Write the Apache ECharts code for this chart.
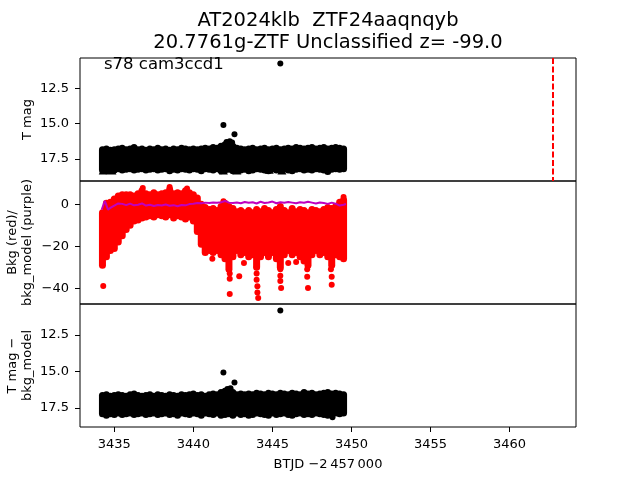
<!DOCTYPE html>
<html>
<head>
<meta charset="utf-8">
<script src="https://cdn.jsdelivr.net/npm/echarts@6/dist/echarts.min.js"></script>
<style>html,body{margin:0;padding:0;background:#fff}#c{width:640px;height:480px}</style>
</head>
<body>
<div id="c"></div>
<script>
// ---------- data ----------
const binTimes = [3434.25,3434.5,3434.75,3435,3435.25,3435.5,3435.75,3436,3436.25,3436.5,3436.75,3437,3437.25,3437.5,3437.75,3438,3438.25,3438.5,3438.75,3439,3439.25,3439.5,3439.75,3440,3440.25,3440.5,3440.75,3441,3441.25,3441.5,3441.75,3442,3442.25,3442.5,3442.75,3443,3443.25,3443.5,3443.75,3444,3444.25,3444.5,3444.75,3445,3445.25,3445.5,3445.75,3446,3446.25,3446.5,3446.75,3447,3447.25,3447.5,3447.75,3448,3448.25,3448.5,3448.75,3449,3449.25,3449.5];

// T mag: brightest / faintest point of the dense cloud in each time bin
const magTop = [16.85,16.8,16.9,16.85,16.8,16.75,16.85,16.8,16.7,16.85,16.8,16.9,16.8,16.85,16.75,16.85,16.8,16.9,16.8,16.85,16.75,16.8,16.85,16.8,16.85,16.8,16.75,16.8,16.7,16.75,16.6,16.5,16.45,16.6,16.75,16.8,16.85,16.8,16.75,16.85,16.8,16.75,16.85,16.8,16.75,16.85,16.8,16.75,16.8,16.7,16.75,16.8,16.75,16.7,16.8,16.75,16.7,16.8,16.75,16.7,16.75,16.8];
const magBottom = [18.3,18.35,18.25,18.3,18.2,18.3,18.25,18.2,18.3,18.25,18.2,18.3,18.25,18.2,18.3,18.25,18.2,18.35,18.25,18.3,18.2,18.25,18.3,18.2,18.25,18.35,18.2,18.25,18.3,18.2,18.35,18.3,18.25,18.35,18.2,18.3,18.25,18.35,18.3,18.2,18.25,18.3,18.35,18.2,18.3,18.25,18.2,18.3,18.35,18.25,18.2,18.3,18.25,18.3,18.2,18.25,18.3,18.4,18.25,18.2,18.25,18.2];
const limitTimes = [3434.3,3434.85,3441.9,3442.75,3444.8,3445.6];
const limitMags = [18.3,18.3,18.3,18.3,18.25,18.3];
const magOutTimes = [3445.5,3441.9,3442.6,3442.1,3442.3,3442.45];
const magOutVals = [10.73,15.1,15.76,16.3,16.25,16.35];

// Background flux (red) and background model (purple)
const bkgTop = [-4,0.5,1,2.5,4,4.5,4.5,4.5,4,5,6.5,5,4.5,5.5,4.5,5,5.5,7,5,5.5,5,6.5,5.5,4.5,3,0,-1.5,-2.5,-2,-3,-1,0.5,-1,-2,-3.5,-3,-4,-3,-4,-2.5,-3.5,-2,-3,-4,-2.5,-1,-3,-4,-2,-3.5,-2.5,-3,-4,-2.5,-3,-3.5,-2.5,-1.5,-2,-1,1,2];
const bkgBottom = [-29,-25,-22,-21,-18,-15,-12,-10,-8,-7.5,-6.5,-6,-5.5,-6,-5,-5.5,-6,-5,-6.5,-5.5,-6,-7,-6,-8,-13,-19,-23,-22,-23,-22,-24,-26,-31,-25,-22,-24,-23,-25,-24,-30,-25,-23,-25,-23,-26,-30,-24,-22,-24,-23,-25,-27,-29,-24,-22,-24,-23,-25,-29,-24,-25,-26];
const bkgOutTimes = [3434.3,3436.8,3438.5,3439.6,3441.2,3441.9,3442.3,3442.3,3442.3,3442.9,3443.2,3444.0,3444.0,3444.0,3444.05,3444.05,3444.1,3445.5,3445.5,3445.5,3445.55,3446.0,3446.5,3447.2,3447.2,3447.25,3448.7,3448.75,3448.75,3449.5];
const bkgOutVals = [-38.9,7.8,8.2,7.5,-26,1.4,-33,-35.5,-42.7,-34.3,-28,-30,-33,-36,-39,-42,-44.6,-31,-34,-36.5,-39.9,-28,-27.5,-31,-34.5,-39.9,-31,-34.5,-38.3,3.5];
const modelTimes = [3434.2,3434.4,3434.6,3434.8,3435,3435.25,3435.5,3435.75,3436,3436.25,3436.5,3436.75,3437,3437.25,3437.5,3437.75,3438,3438.25,3438.5,3438.75,3439,3439.25,3439.5,3439.75,3440,3440.25,3440.5,3440.75,3441,3441.25,3441.5,3441.75,3442,3442.25,3442.5,3442.75,3443,3443.25,3443.5,3443.75,3444,3444.25,3444.5,3444.75,3445,3445.25,3445.5,3445.75,3446,3446.25,3446.5,3446.75,3447,3447.25,3447.5,3447.75,3448,3448.25,3448.5,3448.75,3449,3449.25,3449.5,3449.65];
const modelVals = [-2.6,1.7,-2.5,-1.5,-0.6,0.4,0.2,-0.4,0.3,-0.5,-0.2,0.4,-0.6,-0.2,-0.8,-0.3,-0.6,-0.1,-0.7,-0.4,-0.9,-0.3,-0.5,0.1,0.3,0.6,0.5,0.8,0.6,0.9,0.7,1.0,1.6,0.8,0.6,0.9,0.5,1.1,0.7,1.0,0.4,1.2,0.6,0.9,1.3,0.5,1.0,0.7,1.1,0.8,0.5,1.0,0.7,1.2,0.8,0.4,0.9,0.6,0.2,0.8,0.3,-0.6,-0.2,0.1];

// T mag - bkg_model
const subTop = [16.65,16.6,16.7,16.65,16.6,16.65,16.7,16.6,16.55,16.65,16.7,16.65,16.6,16.7,16.6,16.65,16.7,16.6,16.65,16.7,16.6,16.65,16.6,16.55,16.65,16.6,16.7,16.6,16.55,16.6,16.45,16.35,16.3,16.45,16.6,16.55,16.6,16.55,16.6,16.5,16.55,16.6,16.5,16.55,16.6,16.5,16.55,16.6,16.5,16.55,16.6,16.45,16.55,16.5,16.6,16.55,16.5,16.45,16.55,16.5,16.55,16.6];
const subBottom = [17.9,18.0,17.9,17.95,17.85,17.95,17.9,17.85,17.95,17.9,17.85,17.95,17.9,17.85,17.95,17.9,17.85,17.95,17.9,18.0,17.85,17.9,17.95,17.85,17.9,18.0,17.85,17.9,17.95,17.85,18.0,17.95,17.9,18.0,17.85,17.95,17.9,18.0,17.95,17.85,17.9,17.95,18.0,17.85,17.95,17.9,17.85,17.95,18.0,17.9,17.85,17.95,17.9,17.95,17.85,17.9,17.95,18.0,17.9,17.85,17.9,17.85];
const subOutTimes = [3445.5,3441.9,3442.6,3442.15,3442.35,3448.8];
const subOutVals = [10.85,15.08,15.76,16.2,16.15,18.13];

const xTicks = [3435,3440,3445,3450,3455,3460];
const magTicks = [12.5,15,17.5];
const bkgTicks = [0,-20,-40];
const markerTime = 3462.75;

// ---------- chart ----------
const FONT = 'DejaVu Sans';
const chart = echarts.init(document.getElementById('c'), null, {renderer: 'canvas'});

function capsule(color, w) {
  return function (params, api) {
    const t = api.value(0);
    const pa = api.coord([t, api.value(1)]);
    const pb = api.coord([t, api.value(2)]);
    const y0 = Math.min(pa[1], pb[1]) - w / 2;
    const y1 = Math.max(pa[1], pb[1]) + w / 2;
    return {type: 'rect', shape: {x: pa[0] - w / 2, y: y0, width: w, height: y1 - y0, r: w / 2}, style: {fill: color}};
  };
}
const zip = (a, b) => a.map((v, i) => [v, b[i]]);
const band = (a, b) => binTimes.map((t, i) => [t, a[i], b[i]]);

const gridBase = {left: 80, right: 64, show: true, borderColor: '#000', borderWidth: 1, backgroundColor: 'transparent', containLabel: false, outerBoundsMode: 'none'};
const txt = {color: '#000', fontFamily: FONT, fontSize: 13};

function xAxis(i, shown) {
  return {
    type: 'value', gridIndex: i, min: 3432.83, max: 3464.2,
    axisLine: {show: false}, splitLine: {show: false},
    axisTick: {show: shown, length: 5, customValues: xTicks, lineStyle: {color: '#000', width: 1}},
    axisLabel: Object.assign({show: shown, customValues: xTicks, margin: 11, formatter: v => String(v)}, txt),
    name: shown ? 'BTJD \u22122\u2009457\u2009000' : '', nameLocation: 'middle', nameGap: 31, nameMoveOverlap: false,
    nameTextStyle: Object.assign({}, txt)
  };
}
function yAxis(i, min, max, inverse, ticks, fmt, name) {
  return {
    type: 'value', gridIndex: i, min: min, max: max, inverse: inverse,
    axisLine: {show: false}, splitLine: {show: false},
    axisTick: {show: true, length: 5, customValues: ticks, lineStyle: {color: '#000', width: 1}},
    axisLabel: Object.assign({customValues: ticks, margin: 11, formatter: fmt}, txt),
    name: name, nameLocation: 'middle', nameRotate: 90, nameGap: 45, nameMoveOverlap: false,
    nameTextStyle: Object.assign({lineHeight: 15, align: 'center'}, txt)
  };
}
const fmt1 = v => v.toFixed(1);
const fmtInt = v => (v < 0 ? '\u2212' + Math.abs(v) : String(v));
const dot = (c) => ({color: c, opacity: 1, borderWidth: 0});

chart.setOption({
  animation: false,
  backgroundColor: '#fff',
  grid: [
    Object.assign({top: 58, height: 123}, gridBase),
    Object.assign({top: 181, height: 123}, gridBase),
    Object.assign({top: 304, height: 123}, gridBase)
  ],
  xAxis: [xAxis(0, false), xAxis(1, false), xAxis(2, true)],
  yAxis: [
    yAxis(0, 10.33, 19.08, true, magTicks, fmt1, 'T mag'),
    yAxis(1, -47.5, 11.1, false, bkgTicks, fmtInt, 'Bkg (red)/\nbkg_model (purple)'),
    yAxis(2, 10.4, 18.8, true, magTicks, fmt1, 'T mag \u2212\nbkg_model')
  ],
  graphic: [
    {type: 'text', x: 328, y: 21, style: {text: 'AT2024klb  ZTF24aaqnqyb', fill: '#000', font: '19.5px "DejaVu Sans"', align: 'center', verticalAlign: 'middle'}},
    {type: 'text', x: 328, y: 43, style: {text: '20.7761g-ZTF Unclassified z= -99.0', fill: '#000', font: '19.5px "DejaVu Sans"', align: 'center', verticalAlign: 'middle'}},
    {type: 'text', x: 104, y: 65, z: 100, style: {text: 's78 cam3ccd1', fill: '#000', font: '16.5px "DejaVu Sans"', align: 'left', verticalAlign: 'middle'}}
  ],
  series: [
    {type: 'custom', name: 'T mag', xAxisIndex: 0, yAxisIndex: 0, data: band(magTop, magBottom), encode: {x: 0, y: [1, 2]}, renderItem: capsule('#000', 7), silent: true},
    {type: 'scatter', xAxisIndex: 0, yAxisIndex: 0, data: zip(magOutTimes, magOutVals), symbolSize: 6, itemStyle: dot('#000'), silent: true,
      markLine: {silent: true, symbol: ['none', 'none'], label: {show: false}, animation: false,
        lineStyle: {color: '#ff0000', type: [6, 2.5], width: 2}, data: [{xAxis: markerTime}]}},
    {type: 'scatter', xAxisIndex: 0, yAxisIndex: 0, data: zip(limitTimes, limitMags), symbol: 'triangle', symbolSize: [9, 9], itemStyle: dot('#000'), silent: true},

    {type: 'custom', xAxisIndex: 1, yAxisIndex: 1, data: band(bkgTop, bkgBottom), encode: {x: 0, y: [1, 2]}, renderItem: capsule('#ff0000', 7), silent: true},
    {type: 'scatter', xAxisIndex: 1, yAxisIndex: 1, data: zip(bkgOutTimes, bkgOutVals), symbolSize: 6, itemStyle: dot('#ff0000'), silent: true},
    {type: 'line', xAxisIndex: 1, yAxisIndex: 1, data: zip(modelTimes, modelVals), showSymbol: false, symbol: 'none', z: 5,
      lineStyle: {color: '#bf00bf', width: 2}, silent: true},

    {type: 'custom', xAxisIndex: 2, yAxisIndex: 2, data: band(subTop, subBottom), encode: {x: 0, y: [1, 2]}, renderItem: capsule('#000', 7), silent: true},
    {type: 'scatter', xAxisIndex: 2, yAxisIndex: 2, data: zip(subOutTimes, subOutVals), symbolSize: 6, itemStyle: dot('#000'), silent: true}
  ]
});
</script>
</body>
</html>
